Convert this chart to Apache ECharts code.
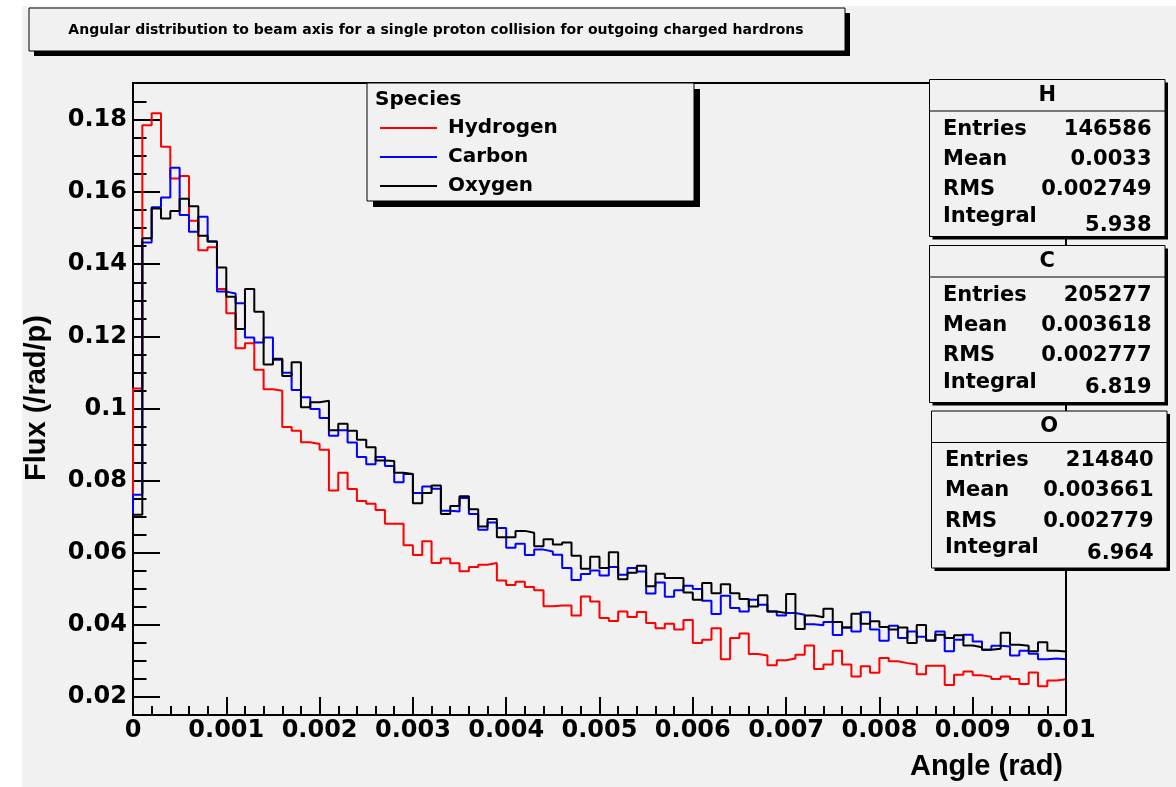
<!DOCTYPE html>
<html>
<head>
<meta charset="utf-8">
<script src="https://cdn.jsdelivr.net/npm/echarts@6/dist/echarts.min.js"></script>
<style>
  html, body { margin: 0; padding: 0; background: #fff; }
  #chart { width: 1176px; height: 787px; }
</style>
</head>
<body>
<div id="chart"></div>
<script>
// histogram contents, 100 bins of 0.0001 rad between 0 and 0.01
var hydrogen = [
  0.1055, 0.1786, 0.1819, 0.1726, 0.1638, 0.1645, 0.1521, 0.1439, 0.1447, 0.1331,
  0.1264, 0.1167, 0.1181, 0.1107, 0.1053, 0.1049, 0.0948, 0.0938, 0.0906, 0.0901,
  0.0885, 0.0772, 0.0821, 0.0776, 0.0743, 0.0735, 0.0718, 0.0680, 0.0680, 0.0620,
  0.0593, 0.0631, 0.0571, 0.0583, 0.0570, 0.0548, 0.0560, 0.0566, 0.0571, 0.0522,
  0.0510, 0.0519, 0.0504, 0.0495, 0.0451, 0.0453, 0.0453, 0.0425, 0.0478, 0.0464,
  0.0418, 0.0410, 0.0436, 0.0421, 0.0435, 0.0404, 0.0390, 0.0402, 0.0386, 0.0413,
  0.0349, 0.0358, 0.0390, 0.0304, 0.0363, 0.0375, 0.0318, 0.0314, 0.0287, 0.0301,
  0.0306, 0.0316, 0.0342, 0.0277, 0.0289, 0.0327, 0.0289, 0.0256, 0.0284, 0.0266,
  0.0307, 0.0298, 0.0293, 0.0289, 0.0262, 0.0286, 0.0286, 0.0232, 0.0261, 0.0270,
  0.0259, 0.0255, 0.0249, 0.0256, 0.0249, 0.0235, 0.0267, 0.0229, 0.0245, 0.0248
];
var carbon = [
  0.0760, 0.1460, 0.1558, 0.1585, 0.1668, 0.1537, 0.1490, 0.1532, 0.1463, 0.1324,
  0.1319, 0.1292, 0.1197, 0.1183, 0.1197, 0.1135, 0.1099, 0.1051, 0.1031, 0.0998,
  0.0973, 0.0924, 0.0939, 0.0905, 0.0865, 0.0845, 0.0865, 0.0840, 0.0795, 0.0818,
  0.0765, 0.0783, 0.0777, 0.0716, 0.0714, 0.0751, 0.0707, 0.0663, 0.0683, 0.0668,
  0.0613, 0.0624, 0.0593, 0.0608, 0.0603, 0.0594, 0.0557, 0.0524, 0.0540, 0.0550,
  0.0536, 0.0560, 0.0538, 0.0557, 0.0547, 0.0486, 0.0517, 0.0477, 0.0495, 0.0508,
  0.0499, 0.0466, 0.0429, 0.0480, 0.0446, 0.0436, 0.0469, 0.0455, 0.0436, 0.0425,
  0.0432, 0.0427, 0.0401, 0.0398, 0.0407, 0.0371, 0.0392, 0.0381, 0.0434, 0.0386,
  0.0355, 0.0397, 0.0363, 0.0381, 0.0366, 0.0355, 0.0381, 0.0326, 0.0358, 0.0372,
  0.0353, 0.0330, 0.0341, 0.0339, 0.0314, 0.0327, 0.0319, 0.0304, 0.0306, 0.0304
];
var oxygen = [
  0.0705, 0.1472, 0.1555, 0.1527, 0.1548, 0.1582, 0.1561, 0.1479, 0.1463, 0.1391,
  0.1310, 0.1220, 0.1331, 0.1268, 0.1122, 0.1138, 0.1090, 0.1128, 0.1003, 0.1017,
  0.1021, 0.0939, 0.0957, 0.0938, 0.0913, 0.0892, 0.0855, 0.0854, 0.0821, 0.0818,
  0.0737, 0.0765, 0.0786, 0.0707, 0.0729, 0.0756, 0.0720, 0.0672, 0.0693, 0.0642,
  0.0642, 0.0660, 0.0655, 0.0617, 0.0637, 0.0622, 0.0628, 0.0591, 0.0555, 0.0588,
  0.0557, 0.0601, 0.0526, 0.0544, 0.0563, 0.0506, 0.0541, 0.0529, 0.0529, 0.0489,
  0.0469, 0.0515, 0.0487, 0.0512, 0.0487, 0.0471, 0.0450, 0.0481, 0.0436, 0.0432,
  0.0485, 0.0388, 0.0425, 0.0420, 0.0444, 0.0407, 0.0392, 0.0430, 0.0402, 0.0409,
  0.0393, 0.0386, 0.0392, 0.0349, 0.0399, 0.0356, 0.0372, 0.0363, 0.0370, 0.0342,
  0.0337, 0.0330, 0.0333, 0.0377, 0.0344, 0.0341, 0.0326, 0.0351, 0.0327, 0.0325
];

var speciesNames = ["Hydrogen", "Carbon", "Oxygen"];
var speciesColors = ["#ff0000", "#0000ff", "#000000"];

var xTickLabels = ["0", "0.001", "0.002", "0.003", "0.004", "0.005", "0.006", "0.007", "0.008", "0.009", "0.01"];
var yTicks = [0.02, 0.04, 0.06, 0.08, 0.1, 0.12, 0.14, 0.16, 0.18];
var yTickLabels = ["0.02", "0.04", "0.06", "0.08", "0.1", "0.12", "0.14", "0.16", "0.18"];
var yMinorTicks = [0.025, 0.03, 0.035, 0.045, 0.05, 0.055, 0.065, 0.07, 0.075, 0.085, 0.09, 0.095,
  0.105, 0.11, 0.115, 0.125, 0.13, 0.135, 0.145, 0.15, 0.155, 0.165, 0.17, 0.175, 0.185];

// stat boxes
var statTitles = ["H", "C", "O"];
var statEntries = ["146586", "205277", "214840"];
var statMean = ["0.0033", "0.003618", "0.003661"];
var statRMS = ["0.002749", "0.002777", "0.002779"];
var statIntegral = ["5.938", "6.819", "6.964"];

var titleText = "Angular distribution to beam axis for a single proton collision for outgoing charged hardrons";

var X_MAX = 0.01;
var Y_MIN = 0.0149;
var Y_MAX = 0.1903;
var BIN = X_MAX / hydrogen.length;

// ROOT-like outline: start at the axis floor, step across the bins, drop back down
function histLine(vals) {
  var d = [[0, Y_MIN]];
  for (var i = 0; i < vals.length; i++) d.push([i * BIN, vals[i]]);
  d.push([X_MAX, vals[vals.length - 1]]);
  d.push([X_MAX, Y_MIN]);
  return d;
}

var DV = '"DejaVu Sans"';
var LB = '"Liberation Sans", Arial';
var BG = "#f1f1f1";

function txt(text, x, y, font, align, valign, extra) {
  var el = {
    type: "text", z: 110, x: x, y: y,
    style: { text: text, font: font, fill: "#000", align: align, verticalAlign: valign,
             textAlign: align, textVerticalAlign: valign }
  };
  if (extra) for (var k in extra) el[k] = extra[k];
  return el;
}
function box(x, y, w, h, shadow) {
  return [
    { type: "rect", z: 100, shape: { x: x + shadow, y: y + shadow, width: w, height: h }, style: { fill: "#000" } },
    { type: "rect", z: 101, shape: { x: x, y: y, width: w, height: h }, style: { fill: BG, stroke: "#000", lineWidth: 1 } }
  ];
}
function hline(x1, x2, y, color, w) {
  return { type: "line", z: 110, shape: { x1: x1, y1: y, x2: x2, y2: y }, style: { stroke: color, lineWidth: w } };
}

var elements = [];
// white margin strips of the canvas
elements.push({ type: "rect", z: -1, shape: { x: 0, y: 0, width: 22, height: 787 }, style: { fill: "#fff" } });
elements.push({ type: "rect", z: -1, shape: { x: 0, y: 0, width: 1176, height: 6 }, style: { fill: "#fff" } });

// title
elements = elements.concat(box(29, 8, 816, 43, 5));
elements.push(txt(titleText, 436, 30, "bold 14px " + DV, "center", "middle"));

// legend
elements = elements.concat(box(367, 83, 327, 118, 6));
elements.push(txt("Species", 375, 100, "bold 20px " + DV, "left", "middle"));
var legY = [128, 157, 186];
speciesNames.forEach(function (n, i) {
  elements.push(hline(380, 437, legY[i], speciesColors[i], 2));
  elements.push(txt(n, 448, legY[i], "bold 20px " + DV, "left", "middle"));
});

// stat boxes
var boxL = [929.5, 929.5, 931.5];
var boxT = [79.5, 245.5, 411];
var integralDy = [146, 142, 143];
statTitles.forEach(function (t, i) {
  var L = boxL[i], T = boxT[i], W = 235.5, H = 157;
  elements = elements.concat(box(L, T, W, H, 3));
  elements.push(hline(L, L + W, T + 31.5, "#000", 1));
  var f = "bold 21px " + DV;
  elements.push(txt(t, L + W / 2, T + 16, f, "center", "middle"));
  var rows = [["Entries", statEntries[i], 50, 50], ["Mean", statMean[i], 80, 80],
              ["RMS", statRMS[i], 110.5, 110.5], ["Integral", statIntegral[i], 137, integralDy[i]]];
  rows.forEach(function (r) {
    elements.push(txt(r[0], L + 13.5, T + r[2], f, "left", "middle"));
    elements.push(txt(r[1], L + W - 13.5, T + r[3], f, "right", "middle"));
  });
});

// axis titles
elements.push(txt("Angle (rad)", 1063, 767, "bold 29px " + LB, "right", "middle"));
elements.push(txt("Flux (/rad/p)", 0, 0, "bold 29px " + LB, "center", "middle",
  { x: 37, y: 398, rotation: Math.PI / 2 }));

var tickStyle = { color: "#000", width: 2 };
var labelStyle = { color: "#000", fontFamily: "DejaVu Sans", fontWeight: "bold", fontSize: 24 };

var chart = echarts.init(document.getElementById("chart"));
chart.setOption({
  animation: false,
  backgroundColor: BG,
  grid: { left: 133, top: 83, width: 933, height: 632, show: true, borderColor: "#000", borderWidth: 2, backgroundColor: "transparent" },
  xAxis: {
    type: "value", min: 0, max: X_MAX, interval: 0.001,
    axisLine: { show: false }, splitLine: { show: false },
    axisTick: { inside: true, length: 18, lineStyle: tickStyle },
    minorTick: { show: true, splitNumber: 5, length: 9, lineStyle: tickStyle },
    axisLabel: Object.assign({ margin: 4, formatter: function (v, idx) { return xTickLabels[idx]; } }, labelStyle)
  },
  yAxis: [
    {
      type: "value", min: Y_MIN, max: Y_MAX, position: "left",
      axisLine: { show: false }, splitLine: { show: false },
      axisTick: { inside: true, length: 27, customValues: yTicks, lineStyle: tickStyle },
      axisLabel: Object.assign({
        margin: 6, customValues: yTicks,
        formatter: function (v) {
          var i = yTicks.findIndex(function (t) { return Math.abs(t - v) < 1e-9; });
          return i < 0 ? "" : yTickLabels[i];
        }
      }, labelStyle)
    },
    {
      type: "value", min: Y_MIN, max: Y_MAX, position: "left", offset: 0,
      axisLine: { show: false }, splitLine: { show: false }, axisLabel: { show: false },
      axisTick: { inside: true, length: 13.5, customValues: yMinorTicks, lineStyle: tickStyle }
    }
  ],
  series: [hydrogen, carbon, oxygen].map(function (vals, i) {
    return {
      name: speciesNames[i], type: "line", step: "end", yAxisIndex: 0,
      data: histLine(vals), showSymbol: false, symbol: "none",
      lineStyle: { color: speciesColors[i], width: 2 }
    };
  }),
  graphic: { elements: elements }
});
</script>
</body>
</html>
